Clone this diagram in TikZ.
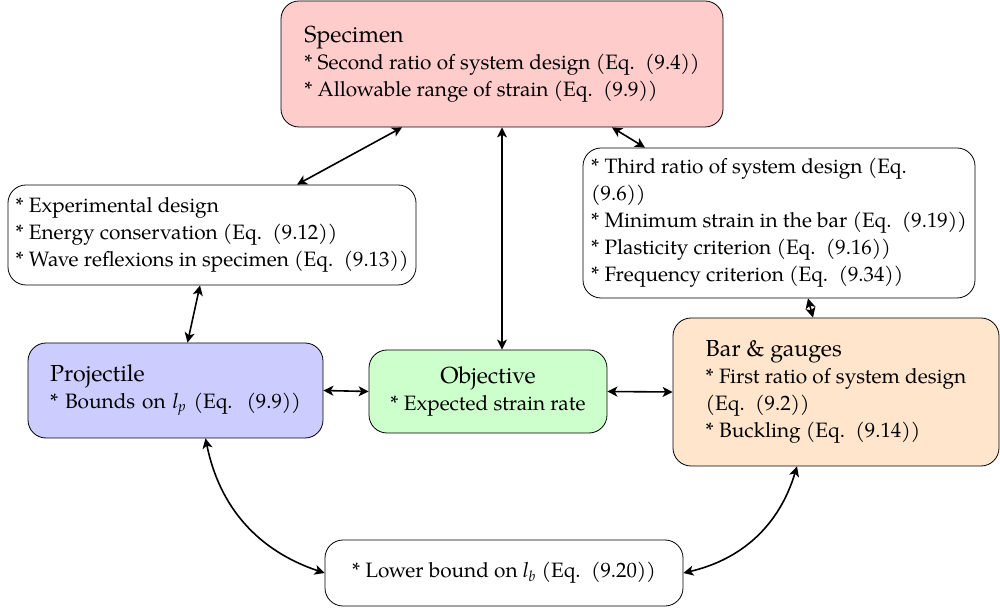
\documentclass[tikz,border=0pt]{standalone}
\usepackage{fontspec}
\setmainfont{TeX Gyre Pagella}
\usepackage{tikz}
\usetikzlibrary{arrows.meta}
\newcommand{\boxtitle}[1]{{\fontsize{11.6}{13.5}\selectfont #1}}
\begin{document}
\begin{tikzpicture}[x=0.5pt,y=-0.5pt,line join=round,
  box/.style={draw,rounded corners=9pt,align=left,inner sep=0pt,
    font=\fontsize{10.4}{13.5}\selectfont},
  link/.style={{Stealth[length=5pt,width=5pt,inset=1.3pt]}-{Stealth[length=5pt,width=5pt,inset=1.3pt]},thick}]
  \useasboundingbox (0,0) rectangle (1000,608);
  \node[box,fill=red!20,minimum width=221pt,minimum height=63pt] (spec) at (502,64)
    {\boxtitle{Specimen}\\{}* Second ratio of system design (Eq.~~(9.4))\\{}* Allowable range of strain (Eq.~~(9.9))};
  \node[box,minimum width=204pt,minimum height=50pt] (expd) at (212,235)
    {{}* Experimental design\\{}* Energy conservation (Eq.~~(9.12))\\{}* Wave reflexions in specimen (Eq.~~(9.13))};
  \node[box,minimum width=196pt,minimum height=75pt] (third) at (779,223)
    {{}* Third ratio of system design (Eq.\\(9.6))\\{}* Minimum strain in the bar (Eq.~~(9.19))\\{}* Plasticity criterion (Eq.~~(9.16))\\{}* Frequency criterion (Eq.~~(9.34))};
  \node[box,fill=blue!20,inner xsep=11pt,text width=125.5pt,minimum height=47.5pt] (proj) at (175.5,390.5)
    {\boxtitle{Projectile}\\{}* Bounds on $\mathit{l}_{\mathit{p}}$ (Eq.~~(9.9))};
  \node[box,fill=green!20,align=center,minimum width=119pt,minimum height=41.5pt] (obj) at (488,391.5)
    {\boxtitle{Objective}\\{}* Expected strain rate};
  \node[box,fill=orange!20,minimum width=163pt,minimum height=74pt] (bar) at (836,392)
    {\boxtitle{Bar \& gauges}\\{}* First ratio of system design\\(Eq.~~(9.2))\\{}* Buckling (Eq.~~(9.14))};
  \node[box,minimum width=179pt,minimum height=33pt] (low) at (504,573)
    {{}* Lower bound on $\mathit{l}_{\mathit{b}}$ (Eq.~~(9.20))};
  \draw[link] ([xshift=-50pt]spec.south) -- ([xshift=42.5pt]expd.north);
  \draw[link] (spec.south) -- (spec.south |- obj.north);
  \draw[link] ([xshift=55pt]spec.south) -- ([xshift=-67pt]third.north);
  \draw[link] ([xshift=-6pt]expd.south) -- ([xshift=6pt]proj.north);
  \draw[link] ([xshift=14.5pt]third.south) -- ([xshift=-11.5pt]bar.north);
  \draw[link] (proj.east) -- (obj.west);
  \draw[link] (obj.east) -- (bar.west);
  \draw[link] ([xshift=15pt]proj.south) to[bend right=30] (low.west);
  \draw[link] (low.east) to[bend right=30] ([xshift=-19.5pt]bar.south);
\end{tikzpicture}
\end{document}
